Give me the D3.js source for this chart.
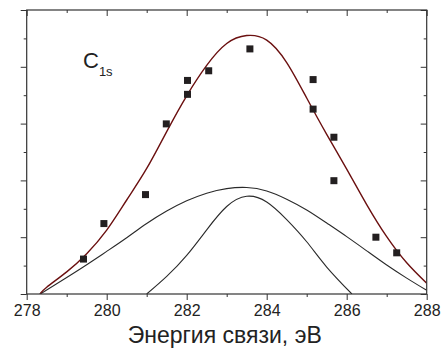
<!DOCTYPE html>
<html><head><meta charset="utf-8">
<script src="https://cdn.jsdelivr.net/npm/d3@7"></script>
<style>html,body{margin:0;padding:0;background:#fff;}svg{display:block;font-family:"Liberation Sans",Arial,sans-serif;}</style>
</head><body><svg id="c" width="443" height="349"></svg>
<script>
// Experimental points
const pointX = [279.42, 279.93, 280.97, 281.49, 282.02, 282.02, 282.55, 283.58, 285.16, 285.16, 285.68, 285.68, 286.73, 287.25];
const pointY = [1.23, 2.48, 3.50, 5.99, 7.03, 7.52, 7.86, 8.63, 7.55, 6.51, 5.52, 3.99, 2.00, 1.45];
// Total fitted envelope
const totalX = [278.33, 278.5, 279, 279.5, 280, 280.5, 281, 281.5, 282, 282.5, 283, 283.5, 284, 284.5, 285, 285.5, 286, 286.5, 287, 287.5, 288];
const totalY = [0, 0.24, 0.78, 1.42, 2.25, 3.31, 4.42, 5.72, 6.98, 8.05, 8.82, 9.10, 8.94, 8.15, 6.90, 5.62, 4.40, 3.15, 2.02, 1.10, 0.38];
// Broad component
const broadX = [278.34, 279, 279.5, 280, 280.5, 281, 281.5, 282, 282.5, 283, 283.5, 284, 284.5, 285, 285.5, 286, 286.5, 287, 287.5, 288];
const broadY = [0, 0.58, 1.03, 1.50, 1.98, 2.48, 2.92, 3.28, 3.55, 3.71, 3.75, 3.63, 3.34, 2.96, 2.50, 2.02, 1.52, 1.02, 0.56, 0.13];
// Narrow component
const narrowX = [281.0, 281.5, 282, 282.5, 283, 283.5, 284, 284.5, 285, 285.5, 286.13];
const narrowY = [0, 0.62, 1.36, 2.26, 3.08, 3.44, 3.24, 2.62, 1.84, 0.95, 0];
// Axis ticks
const xMajor = [278, 280, 282, 284, 286, 288];
const xMinor = [279, 281, 283, 285, 287];
const yMajor = [0, 2, 4, 6, 8, 10];
const yMinor = [1, 3, 5, 7, 9];
const xTitle = "Энергия связи, эВ";

const L = 26.7, R = 426.7, T = 10, B = 294;
const svg = d3.select("#c");
const x = d3.scaleLinear().domain([278, 288]).range([L, R]);
const y = d3.scaleLinear().domain([0, 10]).range([B, T]);

svg.append("defs").append("clipPath").attr("id", "clip")
  .append("rect").attr("x", L).attr("y", T).attr("width", R - L).attr("height", B - T);

const line = d3.line().x(d => x(d[0])).y(d => y(d[1])).curve(d3.curveNatural);
const g = svg.append("g").attr("clip-path", "url(#clip)");
g.append("path").datum(d3.zip(broadX, broadY)).attr("d", line)
  .attr("fill", "none").attr("stroke", "#2a2a2a").attr("stroke-width", 1.1);
g.append("path").datum(d3.zip(narrowX, narrowY)).attr("d", line)
  .attr("fill", "none").attr("stroke", "#2a2a2a").attr("stroke-width", 1.1);
g.append("path").datum(d3.zip(totalX, totalY)).attr("d", line)
  .attr("fill", "none").attr("stroke", "#6b1010").attr("stroke-width", 1.4);

const s = 7;
svg.append("g").selectAll("rect").data(d3.zip(pointX, pointY)).join("rect")
  .attr("x", d => x(d[0]) - s / 2).attr("y", d => y(d[1]) - s / 2)
  .attr("width", s).attr("height", s).attr("fill", "#231f20");

function styleAxis(sel) {
  sel.select(".domain").remove();
  sel.selectAll("line").attr("stroke", "#333").attr("stroke-width", 1);
  sel.selectAll("text").attr("fill", "#222").style("font-size", "16px")
    .style("font-family", '"Liberation Sans", Arial, sans-serif');
}
// bottom
svg.append("g").attr("transform", `translate(0,${B})`)
  .call(d3.axisBottom(x).tickValues(xMajor).tickSize(6).tickPadding(5).tickFormat(d3.format("d"))).call(styleAxis);
svg.append("g").attr("transform", `translate(0,${B})`)
  .call(d3.axisBottom(x).tickValues(xMinor).tickSize(3).tickFormat("")).call(styleAxis);
// top (ticks inward)
svg.append("g").attr("transform", `translate(0,${T})`)
  .call(d3.axisBottom(x).tickValues(xMajor).tickSize(6).tickFormat("")).call(styleAxis);
svg.append("g").attr("transform", `translate(0,${T})`)
  .call(d3.axisBottom(x).tickValues(xMinor).tickSize(3).tickFormat("")).call(styleAxis);
// left (outward)
svg.append("g").attr("transform", `translate(${L},0)`)
  .call(d3.axisLeft(y).tickValues(yMajor).tickSize(6).tickFormat("")).call(styleAxis);
svg.append("g").attr("transform", `translate(${L},0)`)
  .call(d3.axisLeft(y).tickValues(yMinor).tickSize(3).tickFormat("")).call(styleAxis);
// right (inward)
svg.append("g").attr("transform", `translate(${R},0)`)
  .call(d3.axisLeft(y).tickValues(yMajor).tickSize(6).tickFormat("")).call(styleAxis);
svg.append("g").attr("transform", `translate(${R},0)`)
  .call(d3.axisLeft(y).tickValues(yMinor).tickSize(3).tickFormat("")).call(styleAxis);

// frame
svg.append("rect").attr("x", L).attr("y", T).attr("width", R - L).attr("height", B - T)
  .attr("fill", "none").attr("stroke", "#333").attr("stroke-width", 1.2);

// axis title
svg.append("text").attr("x", (L + R) / 2 - 2).attr("y", 343).attr("text-anchor", "middle")
  .attr("fill", "#222").style("font-size", "23px").text(xTitle);

// C1s label
const lab = svg.append("text").attr("x", 83).attr("y", 68).attr("fill", "#222").style("font-size", "22px");
lab.append("tspan").text("C");
lab.append("tspan").attr("dy", 8).style("font-size", "13px").text("1s");
</script>
</body></html>
